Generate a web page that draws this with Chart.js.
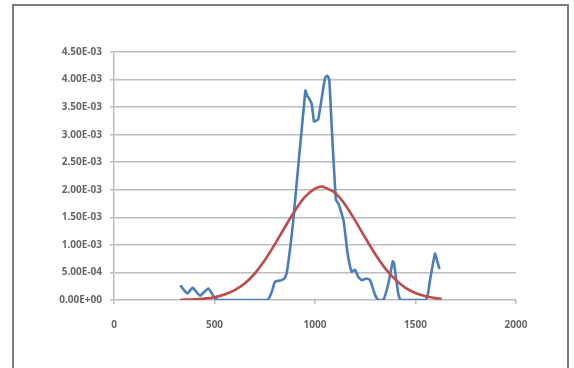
<!DOCTYPE html>
<html><head><meta charset="utf-8">
<script src="https://cdn.jsdelivr.net/npm/chart.js@4/dist/chart.umd.min.js"></script>
<style>
html,body{margin:0;padding:0;background:#fff;}
#wrap{position:relative;width:574px;height:368px;overflow:hidden;background:#fff;}
#frame{position:absolute;left:12px;top:4px;width:557px;height:420px;border:2px solid #7a7a7a;box-sizing:border-box;}
canvas{position:absolute;left:0;top:0;}
</style></head><body>
<div id="wrap"><div id="frame"></div><canvas id="c" width="574" height="368"></canvas></div>
<script>
// Observed series (blue)
const blueX = [333, 365, 391, 428, 469, 502, 520, 600, 700, 765, 785, 801, 834, 850, 862, 892, 952, 962, 972, 984, 995, 1005, 1016, 1035, 1050, 1061, 1071, 1083, 1104, 1116, 1130, 1144, 1161, 1175, 1183, 1199, 1215, 1232, 1257, 1274, 1299, 1315, 1340, 1365, 1387, 1393, 1414, 1426, 1552, 1572, 1597, 1606, 1618];
const blueY = [0.00025, 0.00012, 0.00022, 0.00008, 0.00021, 0.00003, 0, 0, 0, 0, 0.00015, 0.00033, 0.00036, 0.00040, 0.00055, 0.00145, 0.00380, 0.00370, 0.00365, 0.00355, 0.00324, 0.00325, 0.00328, 0.00370, 0.00403, 0.00407, 0.00400, 0.00315, 0.00182, 0.00175, 0.00160, 0.00140, 0.00087, 0.00060, 0.00051, 0.00055, 0.00042, 0.00036, 0.00039, 0.00036, 0.00009, 0, 0, 0.00030, 0.00070, 0.00067, 0.00012, 0, 0, 0.00036, 0.00084, 0.00073, 0.00058];
// Fitted curve (red)
const redX = [335, 400, 450, 500, 550, 600, 650, 700, 750, 800, 850, 900, 950, 1000, 1035, 1050, 1100, 1150, 1200, 1250, 1300, 1350, 1400, 1450, 1500, 1550, 1600, 1625];
const redY = [0.000004, 0.000011, 0.000025, 0.000051, 0.000099, 0.00018, 0.00030, 0.00048, 0.00072, 0.00101, 0.00132, 0.00162, 0.00187, 0.00202, 0.00206, 0.00204, 0.00194, 0.00173, 0.00144, 0.00113, 0.00083, 0.00057, 0.00037, 0.00022, 0.000127, 0.000067, 0.000034, 0.000023];
// Axis ticks
const xTicks = [0, 500, 1000, 1500, 2000];
const yTicks = [0, 0.0005, 0.001, 0.0015, 0.002, 0.0025, 0.003, 0.0035, 0.004, 0.0045];

function fmtE(v){
  if (Math.abs(v) < 1e-12) return '0.00E+00';
  let e = Math.floor(Math.log10(Math.abs(v)) + 1e-9);
  let m = v / Math.pow(10, e);
  if (Math.abs(m) >= 9.995) { m /= 10; e += 1; }
  const sign = e < 0 ? '-' : '+';
  const ae = Math.abs(e);
  return m.toFixed(2) + 'E' + sign + (ae < 10 ? '0' + ae : '' + ae);
}

const font = {family: '"Open Sans", "DejaVu Sans", sans-serif', size: 10, weight: 'bold'};
const gridColor = '#bdbdbd';

new Chart(document.getElementById('c').getContext('2d'), {
  type: 'line',
  data: {
    datasets: [
      {data: redX.map((x, i) => ({x, y: redY[i]})), borderColor: '#be4b48', borderWidth: 2.6, pointRadius: 0, fill: false, cubicInterpolationMode: 'monotone', order: 0, borderJoinStyle: 'round', borderCapStyle: 'round'},
      {data: blueX.map((x, i) => ({x, y: blueY[i]})), borderColor: '#4a7ebb', borderWidth: 2.6, pointRadius: 0, fill: false, tension: 0.15, order: 1, borderJoinStyle: 'round', borderCapStyle: 'round'}
    ]
  },
  options: {
    responsive: false,
    animation: false,
    events: [],
    layout: {padding: {left: 0, top: 52, right: 58, bottom: 0}},
    plugins: {legend: {display: false}, tooltip: {enabled: false}},
    scales: {
      x: {
        type: 'linear', min: 0, max: 2000,
        afterBuildTicks(s){ s.ticks = xTicks.map(v => ({value: v})); },
        ticks: {color: '#666666', font, padding: 15, maxRotation: 0, callback: (v) => String(v)},
        grid: {drawOnChartArea: false, drawTicks: true, tickLength: 4, color: gridColor, lineWidth: 1.5},
        border: {display: false},
        afterFit(s){ s.height = 68; }
      },
      y: {
        type: 'linear', min: 0, max: 0.0045,
        afterBuildTicks(s){ s.ticks = yTicks.map(v => ({value: v})); },
        ticks: {color: '#666666', font, padding: 8, callback: (v) => fmtE(v)},
        grid: {color: gridColor, lineWidth: 1.5, tickLength: 4},
        border: {display: true, color: gridColor, width: 1.5},
        afterFit(s){ s.width = 114; }
      }
    }
  }
});
</script>
</body></html>
